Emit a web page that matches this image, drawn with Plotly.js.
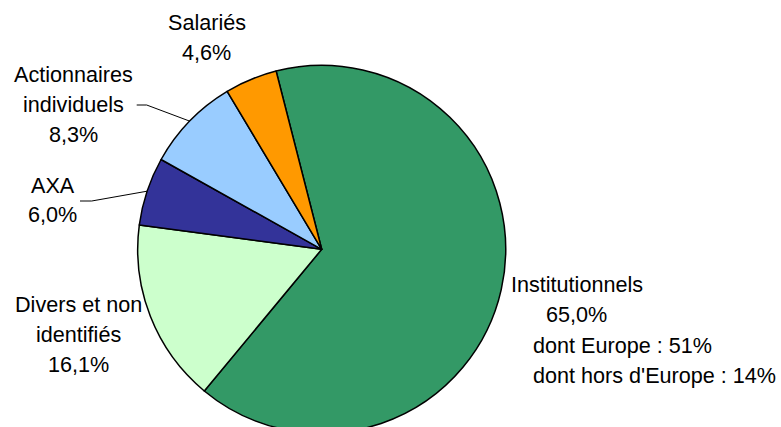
<!DOCTYPE html>
<html>
<head>
<meta charset="utf-8">
<script src="https://cdn.plot.ly/plotly-3.0.1.min.js"></script>
<style>
html,body{margin:0;padding:0;overflow:hidden;background:#fff;}
#chart{width:781px;height:440px;}
</style>
</head>
<body>
<div id="chart"></div>
<script>
// ---- data ----
const categories = ['Institutionnels', 'Divers et non identifiés', 'AXA', 'Actionnaires individuels', 'Salariés'];
const shares = [65.0, 16.1, 6.0, 8.3, 4.6];
const labelLines = [['Institutionnels'], ['Divers et non', 'identifiés'], ['AXA'], ['Actionnaires', 'individuels'], ['Salariés']];
const detailLabels = ['dont Europe', "dont hors d'Europe"];
const detailShares = [51, 14];
const sliceColors = ['#339966', '#CCFFCC', '#333399', '#99CCFF', '#FF9900'];

// ---- layout helpers ----
const W = 781, H = 440;
const cx = 321.7, cy = 249.3, R = 184;
const rotationDeg = -14.35;
const px = x => x / W;
const py = y => 1 - y / H;
const FONT = {family: 'Liberation Sans, Arial, sans-serif', size: 21.6, color: '#000'};

function fmtPct(v) { return v.toFixed(1).replace('.', ',') + '%'; }

// label block positions: [centerX, firstBaseline, lineSpacing]
const labelPos = [
  [576.5, 291.7, 30],
  [78.5, 311.7, 30],
  [52.5, 192.7, 29],
  [73, 81.7, 30],
  [206.5, 30, 30]
];

const annotations = [];
function addLine(text, x, baseline, anchor) {
  annotations.push({
    text: text, xref: 'paper', yref: 'paper',
    x: px(x), y: py(baseline - 7.5),
    xanchor: anchor || 'center', yanchor: 'middle',
    showarrow: false, font: FONT
  });
}
categories.forEach((c, i) => {
  const [x, b, s] = labelPos[i];
  const lines = labelLines[i].concat([fmtPct(shares[i])]);
  lines.forEach((t, k) => addLine(t, x, b + k * s));
});
// details for Institutionnels
const detailBase = [353, 383];
detailLabels.forEach((d, k) => addLine(d + ' : ' + detailShares[k] + '%', 530.7, detailBase[k], 'left'));

// leader lines to mid-angle of slices
const total = shares.reduce((a, b) => a + b, 0);
function midAngle(i) {
  let start = rotationDeg;
  for (let k = 0; k < i; k++) start += shares[k] / total * 360;
  return (start + shares[i] / total * 180) * Math.PI / 180;
}
function edgePoint(i) {
  const a = midAngle(i);
  return [cx + R * Math.sin(a), cy - R * Math.cos(a)];
}
const leaders = [
  {i: 3, start: [136.7, 105], elbow: [146.7, 105]},
  {i: 2, start: [80, 201], elbow: [91.7, 201]}
];
const shapes = leaders.map(l => {
  const e = edgePoint(l.i);
  return {
    type: 'path', xref: 'paper', yref: 'paper',
    path: `M ${px(l.start[0])} ${py(l.start[1])} L ${px(l.elbow[0])} ${py(l.elbow[1])} L ${px(e[0])} ${py(e[1])}`,
    line: {color: '#000', width: 1}
  };
});

const trace = {
  type: 'pie',
  labels: categories,
  values: shares,
  sort: false,
  direction: 'clockwise',
  rotation: rotationDeg,
  textinfo: 'none',
  hoverinfo: 'none',
  marker: {colors: sliceColors, line: {color: '#000', width: 1.5}},
  domain: {x: [px(cx - R), px(cx + R)], y: [py(cy + R), py(cy - R)]}
};

const layout = {
  width: W, height: H,
  margin: {l: 0, r: 0, t: 0, b: 0},
  paper_bgcolor: '#fff',
  showlegend: false,
  annotations: annotations,
  shapes: shapes,
  font: FONT
};

Plotly.newPlot('chart', [trace], layout, {staticPlot: true, displayModeBar: false});
</script>
</body>
</html>
